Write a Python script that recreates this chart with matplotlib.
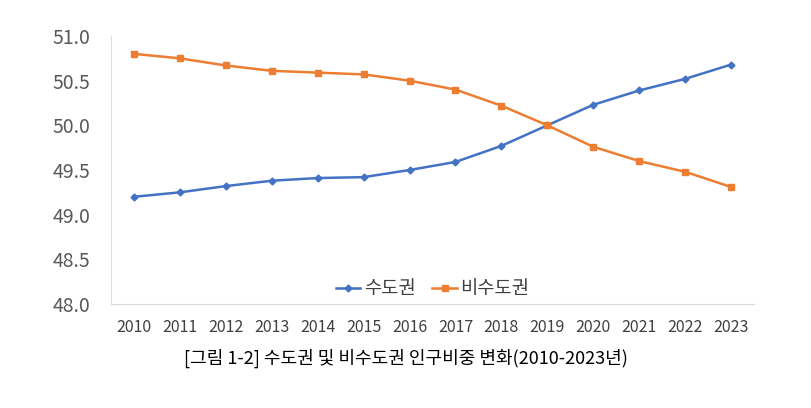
import matplotlib
matplotlib.use("Agg")
import matplotlib.pyplot as plt

plt.rcParams['font.family'] = ['Noto Sans CJK KR', 'DejaVu Sans']

years = ["2010", "2011", "2012", "2013", "2014", "2015", "2016",
         "2017", "2018", "2019", "2020", "2021", "2022", "2023"]
capital = [49.20, 49.25, 49.32, 49.38, 49.41, 49.42, 49.50,
           49.59, 49.77, 50.00, 50.23, 50.39, 50.52, 50.68]
non_capital = [50.80, 50.75, 50.67, 50.61, 50.59, 50.57, 50.50,
               50.40, 50.22, 50.00, 49.76, 49.60, 49.48, 49.31]
series_names = ["수도권", "비수도권"]
caption = "[그림 1-2] 수도권 및 비수도권 인구비중 변화(2010-2023년)"

fig = plt.figure(figsize=(8.11, 4.08), dpi=100)
ax = fig.add_axes([111/811, 1-304/408, (754-111)/811, (304-36)/408])

x = list(range(len(years)))
ax.plot(x, capital, color="#4472C4", marker="D", markersize=3.5, linewidth=1.8,
        label=series_names[0])
ax.plot(x, non_capital, color="#ED7D31", marker="s", markersize=5, linewidth=1.8,
        label=series_names[1])

ax.set_xlim(-0.5, len(years) - 0.5)
ax.set_ylim(48.0, 51.0)
yt = [48.0, 48.5, 49.0, 49.5, 50.0, 50.5, 51.0]
ax.set_yticks(yt)
ax.set_yticklabels([f"{v:.1f}" for v in yt], fontsize=14, color="#595959")
ax.set_xticks(x)
ax.set_xticklabels(years, fontsize=11.5, color="#404040")
ax.tick_params(axis="both", length=0)
ax.tick_params(axis="y", pad=15)
ax.tick_params(axis="x", pad=11)

for s in ["top", "right"]:
    ax.spines[s].set_visible(False)
ax.spines["left"].set_color("#E0E0E0")
ax.spines["bottom"].set_color("#D9D9D9")

leg = ax.legend(loc="lower center", bbox_to_anchor=(0.5, -0.045), ncol=2, frameon=False,
                fontsize=13.5, handlelength=1.3, columnspacing=0.9, handletextpad=0.2)
for t in leg.get_texts():
    t.set_color("#404040")

fig.text(0.5, 1-358/408, caption, ha="center", va="center", fontsize=13,
         color="black", fontweight="medium")

fig.savefig("out.png", dpi=100)
